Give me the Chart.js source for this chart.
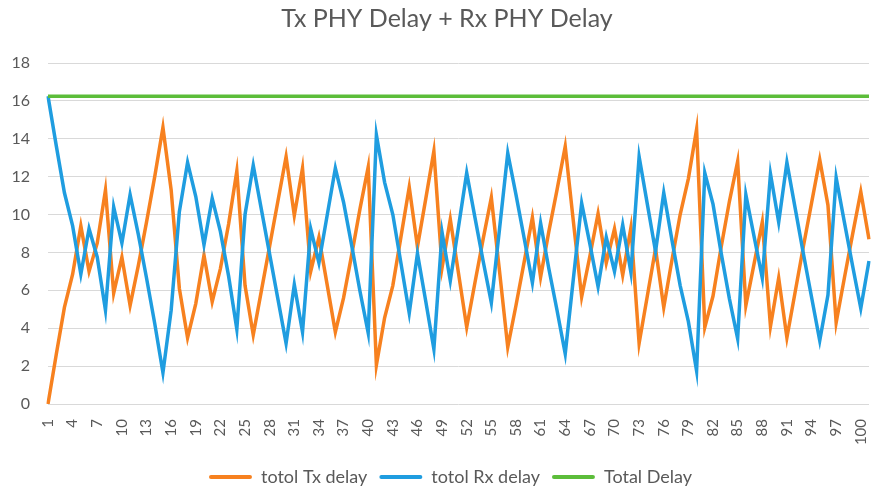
<!DOCTYPE html>
<html><head><meta charset="utf-8">
<script src="https://cdn.jsdelivr.net/npm/chart.js@4.4.1/dist/chart.umd.min.js"></script>
<style>
html,body{margin:0;padding:0;background:#fff;overflow:hidden;width:874px;height:487px;}
#wrap{position:relative;width:902px;height:496px;}
</style></head><body>
<div id="wrap"><canvas id="c" width="902" height="496"></canvas></div>
<script>
const chartTitle = 'Tx PHY Delay + Rx PHY Delay';
const seriesNames = ['totol Tx delay', 'totol Rx delay', 'Total Delay'];
const categories = ['1','2','3','4','5','6','7','8','9','10','11','12','13','14','15','16','17','18','19','20',
'21','22','23','24','25','26','27','28','29','30','31','32','33','34','35','36','37','38','39','40',
'41','42','43','44','45','46','47','48','49','50','51','52','53','54','55','56','57','58','59','60',
'61','62','63','64','65','66','67','68','69','70','71','72','73','74','75','76','77','78','79','80',
'81','82','83','84','85','86','87','88','89','90','91','92','93','94','95','96','97','98','99','100','101'];
const txDelay = [0,2.6,5.1,6.85,9.4,7.0,8.5,11.3,5.85,7.75,5.2,7.3,9.6,12.0,14.6,11.3,6.1,3.5,5.3,7.85,
5.4,7.15,9.5,12.3,6.25,3.65,6.0,8.35,10.7,13.05,9.95,12.45,7.0,8.8,6.3,3.8,5.6,7.9,10.3,12.5,
2.05,4.55,6.25,8.85,11.45,8.3,10.8,13.35,7.2,9.75,6.9,4.05,6.4,8.7,10.9,7.0,3.0,5.2,7.5,9.85,
6.7,9.1,11.3,13.6,9.6,5.65,7.8,10.05,7.45,9.25,6.8,9.3,3.2,5.7,8.2,5.1,7.6,10.0,11.9,14.5,
4.05,5.7,8.3,10.7,12.8,5.2,7.4,9.6,4.1,6.65,3.5,5.9,8.3,10.6,12.9,10.5,4.3,6.65,8.95,11.2,8.7];
const rxDelay = [16.25,13.65,11.15,9.4,6.85,9.25,7.75,4.95,10.4,8.5,11.05,8.95,6.65,4.25,1.65,4.95,10.15,12.75,10.95,8.4,
10.85,9.1,6.75,3.95,10.0,12.6,10.25,7.9,5.55,3.2,6.3,3.8,9.25,7.45,9.95,12.45,10.65,8.35,5.95,3.75,
14.2,11.7,10.0,7.4,4.8,7.95,5.45,2.9,9.05,6.5,9.35,12.2,9.85,7.55,5.35,9.25,13.25,11.05,8.75,6.4,
9.55,7.15,4.95,2.65,6.65,10.6,8.45,6.2,8.8,7.0,9.45,6.95,13.05,10.55,8.05,11.15,8.65,6.25,4.35,1.75,
12.2,10.55,7.95,5.55,3.45,11.05,8.85,6.65,12.15,9.6,12.75,10.35,7.95,5.65,3.35,5.75,11.95,9.6,7.3,5.05,7.55];
const totalDelay = [16.25,16.25,16.25,16.25,16.25,16.25,16.25,16.25,16.25,16.25,16.25,16.25,16.25,16.25,16.25,16.25,16.25,16.25,16.25,16.25,
16.25,16.25,16.25,16.25,16.25,16.25,16.25,16.25,16.25,16.25,16.25,16.25,16.25,16.25,16.25,16.25,16.25,16.25,16.25,16.25,
16.25,16.25,16.25,16.25,16.25,16.25,16.25,16.25,16.25,16.25,16.25,16.25,16.25,16.25,16.25,16.25,16.25,16.25,16.25,16.25,
16.25,16.25,16.25,16.25,16.25,16.25,16.25,16.25,16.25,16.25,16.25,16.25,16.25,16.25,16.25,16.25,16.25,16.25,16.25,16.25,
16.25,16.25,16.25,16.25,16.25,16.25,16.25,16.25,16.25,16.25,16.25,16.25,16.25,16.25,16.25,16.25,16.25,16.25,16.25,16.25,16.25];
const yTicks = {min: 0, max: 18, step: 2};

const colors = ['#F7811F', '#1F9DE0', '#5CBD3A'];
const textColor = '#595959';

// the original chart is wider than the cropped picture: centre title and legend as in it
const centreShift = {
  id: 'centreShift',
  afterLayout(chart) {
    chart.titleBlock.left += 20;
    chart.legend.left += 27;
  }
};

new Chart(document.getElementById('c'), {
  type: 'line',
  data: {
    labels: categories,
    datasets: [
      {label: seriesNames[0], data: txDelay, borderColor: colors[0], backgroundColor: colors[0], borderWidth: 3.5, pointRadius: 0, tension: 0, order: 2},
      {label: seriesNames[1], data: rxDelay, borderColor: colors[1], backgroundColor: colors[1], borderWidth: 3.5, pointRadius: 0, tension: 0, order: 1},
      {label: seriesNames[2], data: totalDelay, borderColor: colors[2], backgroundColor: colors[2], borderWidth: 3.5, pointRadius: 0, tension: 0, order: 0}
    ]
  },
  plugins: [centreShift],
  options: {
    responsive: false,
    animation: false,
    devicePixelRatio: 1,
    layout: {padding: {left: 0, right: 28, top: 0, bottom: 0}},
    plugins: {
      title: {display: true, text: chartTitle, color: textColor, font: {family: 'Lato', size: 25, weight: 'normal'}, padding: {top: 4, bottom: 29}},
      legend: {
        position: 'bottom',
        labels: {
          boxWidth: 43, boxHeight: 4, padding: 12, color: textColor,
          font: {family: 'Lato', size: 18},
          sort: (a, b) => a.datasetIndex - b.datasetIndex,
          generateLabels: (chart) => Chart.defaults.plugins.legend.labels.generateLabels(chart).map(it => {
            it.lineWidth = 0; it.fillStyle = it.strokeStyle; it.borderRadius = 2; return it;
          })
        }
      },
      tooltip: {enabled: false}
    },
    scales: {
      x: {
        grid: {display: false, drawTicks: false},
        border: {display: false},
        ticks: {
          autoSkip: false, minRotation: 90, maxRotation: 90, padding: 15, color: textColor,
          font: {family: 'Lato', size: 15},
          callback: function (v, i) { return i % 3 === 0 ? this.getLabelForValue(v) : ''; }
        },
        afterFit: s => { s.height = 52; }
      },
      y: {
        min: yTicks.min, max: yTicks.max,
        ticks: {stepSize: yTicks.step, padding: 18, color: textColor, font: {family: 'Lato', size: 16}},
        grid: {color: '#d9d9d9', lineWidth: 1, drawTicks: false},
        border: {display: false},
        afterFit: s => { s.width = 48; }
      }
    }
  }
});
</script>
</body></html>
